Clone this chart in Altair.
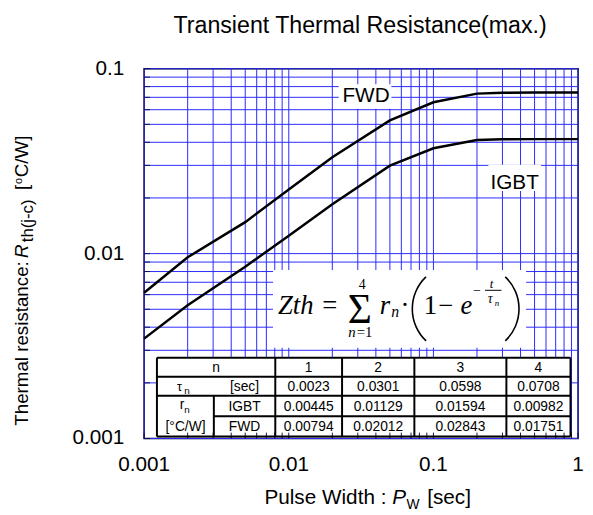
import altair as alt
import pandas as pd

# ---------------- data ----------------
T = [0.001, 0.002, 0.005, 0.01, 0.02, 0.05, 0.1, 0.2, 0.3, 0.5, 1.0]
FWD = [0.00614, 0.00955, 0.0148, 0.0222, 0.0332, 0.0525, 0.0658, 0.0733, 0.0741, 0.0743, 0.0743]
IGBT = [0.00347, 0.00526, 0.00849, 0.0125, 0.0185, 0.0299, 0.0371, 0.0411, 0.0415, 0.0416, 0.0416]

N_HDR = ["1", "2", "3", "4"]
TAU = ["0.0023", "0.0301", "0.0598", "0.0708"]
R_IGBT = ["0.00445", "0.01129", "0.01594", "0.00982"]
R_FWD = ["0.00794", "0.02012", "0.02843", "0.01751"]

X_TICKS = [0.001, 0.01, 0.1, 1.0]
X_LABELS = ["0.001", "0.01", "0.1", "1"]
Y_TICKS = [0.001, 0.01, 0.1]
Y_LABELS = ["0.001", "0.01", "0.1"]

TITLE = "Transient Thermal Resistance(max.)"

# ---------------- layout ----------------
W, H = 440, 375
OX, OY = 146, 66  # page position of plot origin
SANS = "Liberation Sans"
SERIF = "Liberation Serif"
GRID_X = [m * d for d in (0.001, 0.01, 0.1) for m in range(1, 10)] + [1.0]
GRID_Y = [m * d for d in (0.001, 0.01) for m in range(1, 10)] + [0.1]
GRID_BLUE = "#2a2aff"

xs = alt.Scale(type="log", domain=[0.001, 1])
ys = alt.Scale(type="log", domain=[0.001, 0.1])

curve_df = pd.DataFrame(
    [{"t": t, "Z": z, "series": "FWD"} for t, z in zip(T, FWD)]
    + [{"t": t, "Z": z, "series": "IGBT"} for t, z in zip(T, IGBT)]
)

lines = alt.Chart(curve_df).mark_line(color="black", strokeWidth=2.5).encode(
    x=alt.X("t:Q", scale=xs, axis=None),
    y=alt.Y("Z:Q", scale=ys, axis=None),
    detail="series:N",
)

# grid
vgrid = alt.Chart(pd.DataFrame({"t": GRID_X})).mark_rule(color=GRID_BLUE, strokeWidth=1).encode(
    x=alt.X("t:Q", scale=xs, axis=None), y=alt.value(0), y2=alt.value(H))
hgrid = alt.Chart(pd.DataFrame({"Z": GRID_Y})).mark_rule(color=GRID_BLUE, strokeWidth=1).encode(
    y=alt.Y("Z:Q", scale=ys, axis=None), x=alt.value(0), x2=alt.value(W))

# inward ticks
lt = alt.Chart(pd.DataFrame({"Z": GRID_Y})).mark_rule(color="#101050", strokeWidth=1).encode(
    y=alt.Y("Z:Q", scale=ys, axis=None), x=alt.value(0), x2=alt.value(6))
bt = alt.Chart(pd.DataFrame({"t": GRID_X})).mark_rule(color="#101050", strokeWidth=1).encode(
    x=alt.X("t:Q", scale=xs, axis=None), y=alt.value(H), y2=alt.value(H - 6))

# tick labels
xlab = alt.Chart(pd.DataFrame({"t": X_TICKS, "lab": X_LABELS})).mark_text(
    font=SANS, fontSize=21, align="center", baseline="alphabetic", color="black").encode(
    x=alt.X("t:Q", scale=xs, axis=None), y=alt.value(H + 33.3), text="lab:N")
ylab = alt.Chart(pd.DataFrame({"Z": Y_TICKS, "lab": Y_LABELS})).mark_text(
    font=SANS, fontSize=21, align="right", baseline="middle", color="black").encode(
    y=alt.Y("Z:Q", scale=ys, axis=None), x=alt.value(-20), text="lab:N")


def P(x, y):
    return x - OX, y - OY


def enc_px():
    return dict(x=alt.X("px:Q", scale=None, axis=None), y=alt.Y("py:Q", scale=None, axis=None))


def rect_df(items):
    rows = []
    for x1, x2, y1, y2 in items:
        a, b = P(x1, y1)
        c, d = P(x2, y2)
        rows.append({"px": a, "px2": c, "py": b, "py2": d})
    return pd.DataFrame(rows)


boxes = alt.Chart(rect_df([
    (276.7, 533.3, 270, 349),     # formula
    (343.3, 396.7, 81.7, 106.7),  # FWD label
    (495, 548.3, 163.3, 190),     # IGBT label
    (159, 578.3, 359, 439),       # table
])).mark_rect(color="white").encode(x2="px2:Q", y2="py2:Q", **enc_px())


def text_layer(items, font, style="normal", align="left", angle=0):
    rows = []
    for t, x, y, s in items:
        a, b = P(x, y)
        rows.append({"text": t, "px": a, "py": b, "size": s})
    return alt.Chart(pd.DataFrame(rows)).mark_text(
        font=font, fontStyle=style, align=align, baseline="alphabetic", angle=angle, color="black"
    ).encode(text="text:N", size=alt.Size("size:Q", scale=None, legend=None), **enc_px())


# table geometry
COLS = [279, 346.7, 420, 513.3, 578.3]
centers = [(COLS[i] + COLS[i + 1]) / 2 for i in range(4)]
ROW_BASE = [373.3, 392.7, 413.0, 433.3]

sans_center = [
    (TITLE, 365, 30, 23.5),
    ("FWD", 371, 100, 21),
    ("IGBT", 521.7, 187.7, 21),
    ("n", 219, ROW_BASE[0], 14),
    ("[sec]", 247.8, ROW_BASE[1], 14),
    ("IGBT", 247.8, ROW_BASE[2], 14),
    ("FWD", 247.8, ROW_BASE[3], 14),
    ("[°C/W]", 188, ROW_BASE[3], 14),
    ("τ", 182, 392.5, 13),
    ("n", 189.5, 396, 10),
    ("r", 184.5, 411.5, 14),
    ("n", 189.5, 415, 10),
]
for i in range(4):
    sans_center += [
        (N_HDR[i], centers[i], ROW_BASE[0], 14),
        (TAU[i], centers[i], ROW_BASE[1], 14),
        (R_IGBT[i], centers[i], ROW_BASE[2], 14),
        (R_FWD[i], centers[i], ROW_BASE[3], 14),
    ]

sans_left = [
    ("Pulse Width :", 268, 507, 21),
    ("W", 412, 512, 14),
    ("[sec]", 433, 507, 21),
]
sans_left_it = [("P", 397.5, 507, 21)]

# rotated y title (text runs upward from the anchor)
ytitle = [
    ("Thermal resistance:", 28.5, 428, 19),
    ("th(j-c)", 33.5, 242, 17),
    ("[", 28.5, 189, 19),
    ("o", 22, 183, 11),
    ("C/W]", 28.5, 176, 19),
]
ytitle_it = [("R", 28.5, 258, 19)]

serif_it = [
    ("Zth", 281.7, 314.3, 27),
    ("r", 385, 314.3, 27),
    ("n", 396.5, 317.5, 16),
    ("n", 353, 338.5, 15),
    ("e", 466.7, 314.3, 27),
    ("t", 496.5, 288, 13),
    ("τ", 494.5, 304, 14),
    ("n", 501.5, 307, 9),
]
serif_norm = [
    ("=", 326.7, 314.3, 27),
    ("Σ", 352.5, 323.5, 42),
    ("4", 363.5, 289.5, 14),
    ("=1", 361.5, 338.5, 15),
    ("·", 406, 314.3, 27),
    ("1", 429.5, 314.3, 27),
    ("−", 444, 314.3, 27),
    ("−", 479.5, 295, 14),
]

# table lines + fraction bar
rule_items = [
    (159, 578.3, 359, 359, 2), (159, 578.3, 378.3, 378.3, 2), (159, 578.3, 397.7, 397.7, 2),
    (216.7, 578.3, 418.3, 418.3, 2), (159, 578.3, 439, 439, 2),
    (159, 159, 359, 439, 2), (216.7, 216.7, 397.7, 439, 2),
] + [(c, c, 359, 439, 2) for c in COLS] + [(491.7, 508.3, 290.7, 290.7, 1)]
rrows = []
for x1, x2, y1, y2, sw in rule_items:
    a, b = P(x1, y1)
    c, d = P(x2, y2)
    rrows.append({"px": a, "px2": c, "py": b, "py2": d, "sw": sw})
rules = alt.Chart(pd.DataFrame(rrows)).mark_rule(color="black").encode(
    x2="px2:Q", y2="py2:Q", strokeWidth=alt.StrokeWidth("sw:Q", scale=None, legend=None), **enc_px())


def paren(cx, cy, th1, th2):
    a, b = P(cx, cy)
    return alt.Chart(pd.DataFrame({"k": [0]})).mark_arc(
        theta=th1, theta2=th2, radius=45.6, radius2=44.0, color="black"
    ).encode(x=alt.value(a), y=alt.value(b))


lp = paren(462.7, 309.5, 3.90, 5.52)
rp = paren(481.3, 309.5, 0.76, 2.38)

chart = alt.layer(
    vgrid, hgrid, boxes, lt, bt, lines, xlab, ylab,
    text_layer(sans_center, SANS, align="center"),
    text_layer(sans_left, SANS),
    text_layer(sans_left_it, SANS, style="italic"),
    text_layer(ytitle, SANS, angle=270),
    text_layer(ytitle_it, SANS, style="italic", angle=270),
    text_layer(serif_it, SERIF, style="italic"),
    text_layer(serif_norm, SERIF),
    rules, lp, rp,
).properties(
    width=W, height=H,
    autosize=alt.AutoSizeParams(type="none"),
    padding={"left": 138, "top": 58, "right": 7, "bottom": 74},
).configure_view(stroke="black", strokeWidth=1.5)

chart.save("out.html", embed_options={"renderer": "svg", "actions": False})
